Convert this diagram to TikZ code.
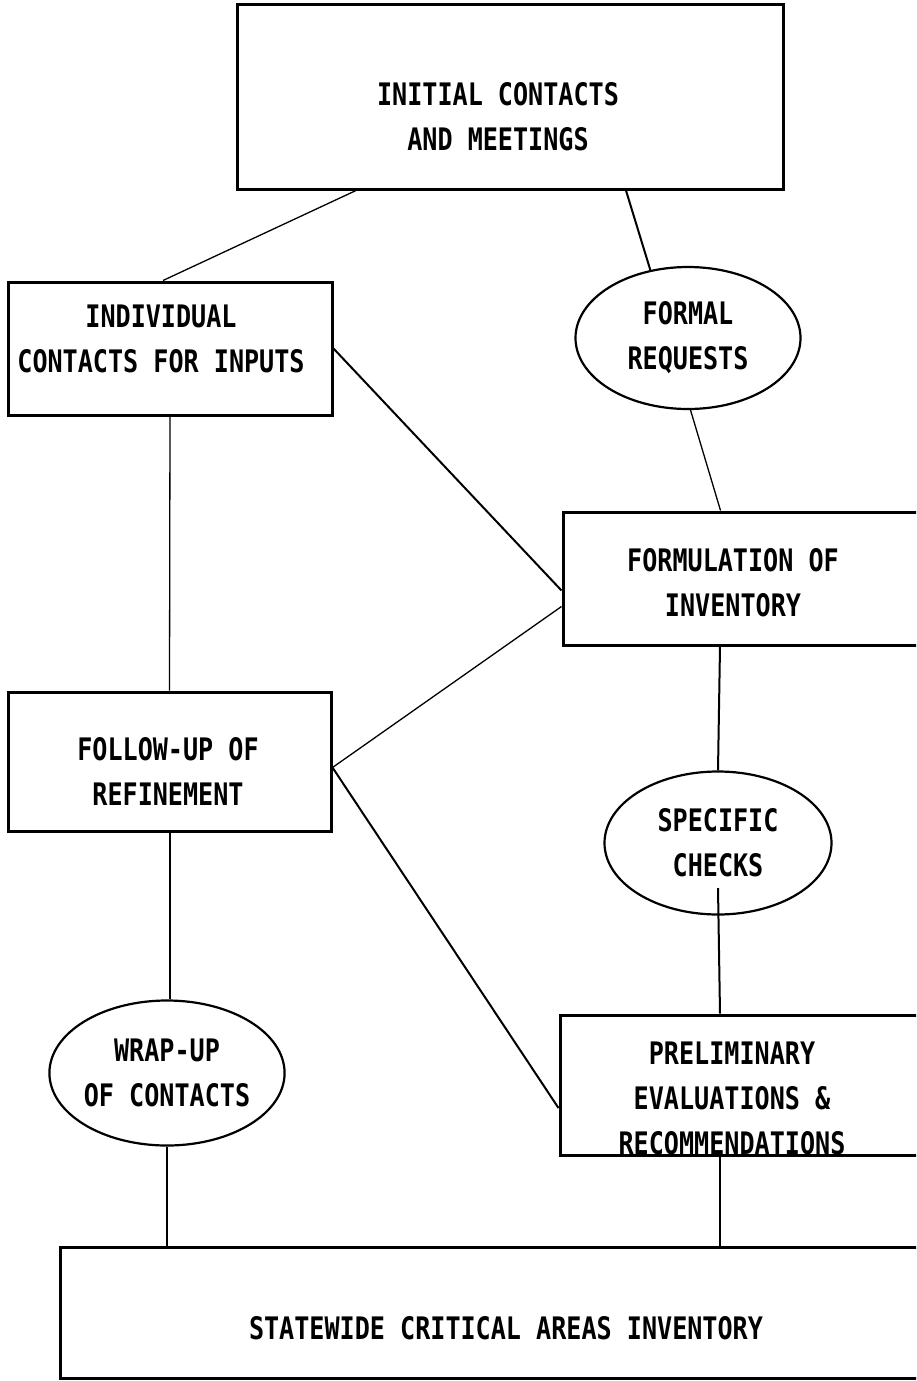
\documentclass[tikz,border=0pt]{standalone}
\usepackage{fontspec}
\newfontfamily\tw[FakeStretch=0.81]{DejaVu Sans Mono}
\usetikzlibrary{shapes.geometric}
\begin{document}
\begin{tikzpicture}[x=1pt,y=-1pt,
  box/.style={draw, line width=3pt, inner sep=0pt},
  oval/.style={draw, ellipse, line width=2.2pt, inner sep=0pt,
    font=\fontsize{31}{45}\selectfont\tw\bfseries, align=center},
  lbl/.style={font=\fontsize{31}{45}\selectfont\tw\bfseries, align=center, inner sep=0pt},
  link/.style={line width=2pt},
  thinlink/.style={line width=1.3pt}]
\useasboundingbox (0,0) rectangle (916,1381);
\clip (0,0) rectangle (916,1381);
\fill[white] (0,0) rectangle (916,1381);

% boxes
\node[box, minimum width=546pt, minimum height=184pt] (init) at (510,97) {};
\node[lbl] (initt) at (498,117) {INITIAL CONTACTS\\AND MEETINGS};

\node[box, minimum width=324pt, minimum height=133pt] (indiv) at (170,348.5) {};
\node[lbl] (indivt) at (161,339) {INDIVIDUAL\\CONTACTS FOR INPUTS};

\node[oval, minimum width=225pt, minimum height=142pt] (formal) at (688,338) {FORMAL\\REQUESTS};

\node[box, minimum width=397pt, minimum height=133pt] (form) at (761.5,578.5) {};
\node[lbl] (formt) at (733,583) {FORMULATION OF\\INVENTORY};

\node[box, minimum width=323pt, minimum height=139pt] (follow) at (169.5,761.5) {};
\node[lbl] (followt) at (168,771) {FOLLOW-UP OF\\REFINEMENT};

\node[oval, minimum width=227pt, minimum height=143pt] (spec) at (718,843) {SPECIFIC\\CHECKS};

\node[oval, minimum width=223pt, minimum height=145pt] (wrap) at (167,1073) {WRAP-UP\\OF CONTACTS};

\node[box, minimum width=400pt, minimum height=140pt] (prelim) at (760,1085) {};
\node[lbl] (prelimt) at (732,1098) {PRELIMINARY\\EVALUATIONS \&\\RECOMMENDATIONS};

\node[box, minimum width=900pt, minimum height=131pt] (state) at (510,1312.5) {};
\node[lbl] (statet) at (506,1328) {STATEWIDE CRITICAL AREAS INVENTORY};

% connectors
\draw[thinlink] ([xshift=-154pt]init.south) -- ([xshift=-7pt]indiv.north);
\draw[link] ([xshift=116pt]init.south) -- (formal.119);
\draw[link] (indiv.east) -- ([yshift=-12pt]form.west);
\draw[thinlink] (formal.272) -- ([xshift=-41pt]form.north);
\draw[thinlink] (indiv.south) -- (follow.north);
\draw[thinlink] ([yshift=-6pt]follow.east) -- ([yshift=-28pt]form.west);
\draw[link] ([yshift=-6pt]follow.east) -- ([yshift=-23pt]prelim.west);
\draw[link] ([xshift=-41.5pt]form.south) -- (spec.north);
\draw[link] ([yshift=-45pt]spec.center) -- ([xshift=-40pt]prelim.north);
\draw[link] (follow.south) -- (follow.south |- wrap.north);
\draw[link] (wrap.south) -- (wrap.south |- state.north);
\draw[link] ([xshift=-40pt]prelim.south) -- ([xshift=-40pt]prelim.south |- state.north);
\end{tikzpicture}
\end{document}
